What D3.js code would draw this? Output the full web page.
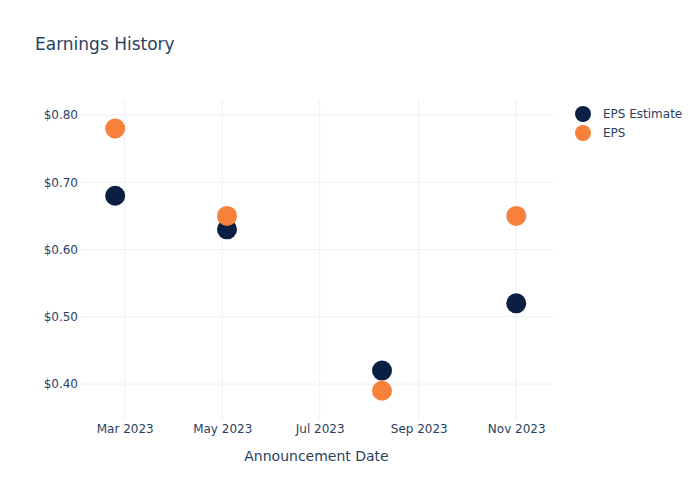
<!DOCTYPE html>
<html><head><meta charset="utf-8">
<script src="https://cdn.jsdelivr.net/npm/d3@7"></script>
<style>body{margin:0;background:#fff}svg{font-family:"DejaVu Sans",Verdana,sans-serif}</style>
</head><body>
<svg id="c" width="700" height="500"></svg>
<script>
const dates = ["2023-02-23","2023-05-04","2023-08-09","2023-11-01"];
const epsEstimate = [0.68, 0.63, 0.42, 0.52];
const eps = [0.78, 0.65, 0.39, 0.65];
const yTicks = [0.40, 0.50, 0.60, 0.70, 0.80];
const xTicks = ["2023-03-01","2023-05-01","2023-07-01","2023-09-01","2023-11-01"];
const seriesNames = ["EPS Estimate","EPS"];
const colors = ["#0b1f42","#f7803a"];

const parse = d3.timeParse("%Y-%m-%d");
const svg = d3.select("#c");
const L=80, R=553, T=100, B=420;
const x = d3.scaleTime().domain([parse("2023-02-01"), parse("2023-11-24")]).range([L,R]);
const y = d3.scaleLinear().domain([0.3465, 0.8223]).range([B,T]);
const fc = "#2a3f5f";
const ff = "'DejaVu Sans',Verdana,sans-serif";

const g = svg.append("g");
g.selectAll(".gx").data(xTicks).enter().append("line")
 .attr("x1",d=>x(parse(d))).attr("x2",d=>x(parse(d))).attr("y1",T).attr("y2",B)
 .attr("stroke","#ebf0f8").attr("stroke-width",1);
g.selectAll(".gy").data(yTicks).enter().append("line")
 .attr("x1",L).attr("x2",R).attr("y1",d=>y(d)).attr("y2",d=>y(d))
 .attr("stroke","#ebf0f8").attr("stroke-width",1);

const xa = svg.append("g").attr("transform",`translate(0,${B})`)
 .call(d3.axisBottom(x).tickValues(xTicks.map(parse)).tickFormat(d3.timeFormat("%b %Y")).tickSize(0).tickPadding(4));
xa.select(".domain").remove();
xa.selectAll("text").attr("fill",fc).attr("font-size",12).attr("font-family",ff);
const ya = svg.append("g").attr("transform",`translate(${L},0)`)
 .call(d3.axisLeft(y).tickValues(yTicks).tickFormat(d=>"$"+d3.format(".2f")(d)).tickSize(0).tickPadding(2));
ya.select(".domain").remove();
ya.selectAll("text").attr("fill",fc).attr("font-size",12).attr("font-family",ff);

const series = [epsEstimate, eps];
series.forEach((vals,i)=>{
  svg.append("g").selectAll("circle").data(vals).enter().append("circle")
   .attr("cx",(d,j)=>x(parse(dates[j]))).attr("cy",d=>y(d)).attr("r",10)
   .attr("fill",colors[i]);
});

svg.append("text").attr("x",35).attr("y",50).attr("fill",fc).attr("font-size",17).attr("font-family",ff).text("Earnings History");
svg.append("text").attr("x",(L+R)/2).attr("y",461).attr("text-anchor","middle").attr("fill",fc).attr("font-size",14).attr("font-family",ff).text("Announcement Date");

const lg = svg.append("g");
seriesNames.forEach((n,i)=>{
  lg.append("circle").attr("cx",583).attr("cy",114+i*19).attr("r",8).attr("fill",colors[i]);
  lg.append("text").attr("x",603).attr("y",118+i*19).attr("fill",fc).attr("font-size",12).attr("font-family",ff).text(n);
});
</script>
</body></html>
